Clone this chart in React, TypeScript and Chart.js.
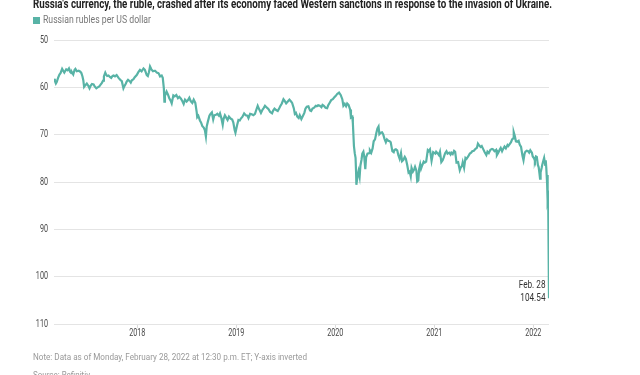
import React, { useEffect, useLayoutEffect, useRef } from "react";
import { Chart, registerables } from "chart.js";

Chart.register(...registerables);

const titleText =
  "Russia's currency, the ruble, crashed after its economy faced Western sanctions in response to the invasion of Ukraine.";
const legendLabel = "Russian rubles per US dollar";
const noteText = "Note: Data as of Monday, February 28, 2022 at 12:30 p.m. ET; Y-axis inverted";
const sourceText = "Source: Refinitiv";
const yearTicks = [2018, 2019, 2020, 2021, 2022];
const yMin = 50;
const yMax = 110;
const yStep = 10;
const endLabelDate = "Feb. 28";
const endLabelValue = "104.54";

const rub2017: [string, number][] = [
  ["2017-02-28", 58.2], ["2017-03-03", 58.6], ["2017-03-07", 59.2], ["2017-03-10", 58.9],
  ["2017-03-15", 58.0], ["2017-03-20", 57.3], ["2017-03-24", 57.0], ["2017-03-30", 56.1],
  ["2017-04-04", 56.6], ["2017-04-07", 56.9], ["2017-04-11", 56.5], ["2017-04-14", 56.2],
  ["2017-04-19", 56.4], ["2017-04-24", 56.0], ["2017-04-28", 56.7], ["2017-05-03", 57.0],
  ["2017-05-05", 56.8], ["2017-05-10", 57.3], ["2017-05-15", 56.3], ["2017-05-18", 56.1],
  ["2017-05-23", 56.6], ["2017-05-30", 56.5], ["2017-06-05", 56.7], ["2017-06-09", 57.0],
  ["2017-06-13", 57.7], ["2017-06-16", 58.5], ["2017-06-19", 59.9], ["2017-06-23", 59.6],
  ["2017-06-29", 59.2], ["2017-07-04", 59.6], ["2017-07-09", 60.2], ["2017-07-13", 59.7],
  ["2017-07-18", 59.3], ["2017-07-24", 59.4], ["2017-07-28", 59.8], ["2017-08-03", 60.2],
  ["2017-08-08", 60.0], ["2017-08-14", 59.8], ["2017-08-18", 59.5], ["2017-08-23", 59.1],
  ["2017-08-28", 58.6], ["2017-08-31", 57.7], ["2017-09-05", 56.9], ["2017-09-08", 57.3],
  ["2017-09-12", 57.6], ["2017-09-17", 57.5], ["2017-09-22", 57.8], ["2017-09-27", 58.0],
  ["2017-10-02", 57.6], ["2017-10-06", 57.5], ["2017-10-11", 57.7], ["2017-10-17", 57.4],
  ["2017-10-24", 58.0], ["2017-10-30", 58.4], ["2017-11-05", 58.7], ["2017-11-11", 60.2],
  ["2017-11-15", 59.7], ["2017-11-20", 59.2], ["2017-11-23", 58.8], ["2017-11-28", 58.4],
  ["2017-12-04", 58.7], ["2017-12-08", 59.0], ["2017-12-12", 58.5], ["2017-12-18", 58.3],
  ["2017-12-22", 57.9], ["2017-12-30", 57.4],
];

const rub2018: [string, number][] = [
  ["2018-01-05", 56.8], ["2018-01-11", 56.3], ["2018-01-17", 56.6], ["2018-01-24", 56.0],
  ["2018-01-29", 56.3], ["2018-02-05", 57.4], ["2018-02-09", 57.6], ["2018-02-13", 56.8],
  ["2018-02-17", 55.6], ["2018-02-22", 56.2], ["2018-02-28", 56.6], ["2018-03-05", 56.5],
  ["2018-03-08", 56.5], ["2018-03-14", 56.9], ["2018-03-20", 57.0], ["2018-03-23", 57.3],
  ["2018-03-26", 57.7], ["2018-04-01", 57.5], ["2018-04-05", 58.0], ["2018-04-09", 60.2],
  ["2018-04-11", 63.0], ["2018-04-13", 61.8], ["2018-04-19", 60.9], ["2018-04-24", 61.5],
  ["2018-04-29", 62.3], ["2018-05-04", 62.8], ["2018-05-08", 63.4], ["2018-05-14", 61.7],
  ["2018-05-19", 61.9], ["2018-05-25", 61.6], ["2018-05-31", 62.3], ["2018-06-05", 62.0],
  ["2018-06-11", 62.4], ["2018-06-16", 62.9], ["2018-06-21", 63.5], ["2018-06-26", 62.6],
  ["2018-07-02", 63.0], ["2018-07-07", 62.7], ["2018-07-12", 62.2], ["2018-07-17", 62.9],
  ["2018-07-23", 63.3], ["2018-07-28", 62.6], ["2018-08-03", 63.3], ["2018-08-08", 65.2],
  ["2018-08-10", 66.3], ["2018-08-14", 66.0], ["2018-08-20", 67.0], ["2018-08-24", 67.4],
  ["2018-08-29", 68.2], ["2018-09-03", 68.5], ["2018-09-07", 69.0], ["2018-09-11", 70.4],
  ["2018-09-14", 68.3], ["2018-09-18", 67.3], ["2018-09-24", 66.0], ["2018-09-28", 65.6],
  ["2018-10-03", 65.3], ["2018-10-08", 66.8], ["2018-10-12", 65.9], ["2018-10-18", 65.8],
  ["2018-10-23", 65.6], ["2018-10-29", 66.0], ["2018-11-02", 65.5], ["2018-11-07", 66.5],
  ["2018-11-12", 67.9], ["2018-11-15", 66.7], ["2018-11-20", 65.9], ["2018-11-26", 66.5],
  ["2018-11-30", 66.9], ["2018-12-05", 66.2], ["2018-12-11", 66.6], ["2018-12-17", 66.8],
  ["2018-12-21", 67.4], ["2018-12-26", 69.0], ["2018-12-29", 69.6],
];

const rub2019: [string, number][] = [
  ["2019-01-04", 68.0], ["2019-01-09", 66.9], ["2019-01-14", 67.0], ["2019-01-18", 66.6],
  ["2019-01-24", 66.2], ["2019-01-30", 65.5], ["2019-02-05", 65.9], ["2019-02-11", 66.0],
  ["2019-02-15", 66.5], ["2019-02-21", 65.6], ["2019-02-27", 65.7], ["2019-03-05", 65.9],
  ["2019-03-11", 65.6], ["2019-03-15", 64.9], ["2019-03-21", 63.9], ["2019-03-27", 64.7],
  ["2019-04-02", 65.4], ["2019-04-08", 64.7], ["2019-04-12", 64.4], ["2019-04-17", 63.9],
  ["2019-04-24", 64.3], ["2019-04-30", 64.6], ["2019-05-06", 65.2], ["2019-05-13", 65.5],
  ["2019-05-17", 64.9], ["2019-05-22", 64.5], ["2019-05-28", 64.8], ["2019-06-03", 65.0],
  ["2019-06-07", 64.6], ["2019-06-12", 64.0], ["2019-06-18", 63.4], ["2019-06-24", 62.5],
  ["2019-06-28", 62.8], ["2019-07-04", 63.4], ["2019-07-10", 63.0], ["2019-07-16", 62.6],
  ["2019-07-22", 63.0], ["2019-07-26", 63.3], ["2019-08-01", 64.4], ["2019-08-05", 65.6],
  ["2019-08-09", 65.4], ["2019-08-14", 66.2], ["2019-08-19", 66.5], ["2019-08-23", 65.9],
  ["2019-08-29", 66.7], ["2019-09-04", 66.0], ["2019-09-09", 65.4], ["2019-09-13", 64.5],
  ["2019-09-18", 64.1], ["2019-09-24", 64.0], ["2019-09-30", 64.9], ["2019-10-04", 65.0],
  ["2019-10-09", 64.5], ["2019-10-15", 64.3], ["2019-10-21", 63.9], ["2019-10-25", 64.0],
  ["2019-10-30", 63.8], ["2019-11-05", 63.9], ["2019-11-11", 64.2], ["2019-11-15", 63.7],
  ["2019-11-20", 63.9], ["2019-11-26", 64.3], ["2019-12-02", 64.4], ["2019-12-06", 63.8],
  ["2019-12-12", 63.2], ["2019-12-17", 62.7], ["2019-12-23", 62.5], ["2019-12-30", 62.0],
];

const rub2020: [string, number][] = [
  ["2020-01-03", 61.8], ["2020-01-08", 61.4], ["2020-01-15", 61.1], ["2020-01-21", 61.6],
  ["2020-01-27", 62.5], ["2020-01-31", 63.9], ["2020-02-05", 63.5], ["2020-02-10", 64.0],
  ["2020-02-14", 63.4], ["2020-02-19", 63.7], ["2020-02-25", 64.7], ["2020-02-28", 66.4],
  ["2020-03-04", 66.2], ["2020-03-06", 67.5], ["2020-03-10", 72.4], ["2020-03-13", 73.9],
  ["2020-03-16", 74.9], ["2020-03-18", 78.0], ["2020-03-19", 80.6], ["2020-03-24", 78.5],
  ["2020-03-27", 77.7], ["2020-03-31", 78.9], ["2020-04-03", 76.5], ["2020-04-07", 75.3],
  ["2020-04-10", 74.0], ["2020-04-14", 73.6], ["2020-04-17", 74.6], ["2020-04-21", 77.3],
  ["2020-04-24", 74.8], ["2020-04-29", 74.0], ["2020-05-05", 73.9], ["2020-05-08", 73.3],
  ["2020-05-13", 73.8], ["2020-05-18", 72.9], ["2020-05-22", 71.4], ["2020-05-27", 71.0],
  ["2020-06-01", 69.6], ["2020-06-05", 68.7], ["2020-06-09", 68.3], ["2020-06-12", 69.9],
  ["2020-06-17", 69.6], ["2020-06-22", 69.5], ["2020-06-26", 69.9], ["2020-07-01", 70.9],
  ["2020-07-06", 71.6], ["2020-07-10", 71.0], ["2020-07-15", 71.3], ["2020-07-20", 71.4],
  ["2020-07-24", 71.6], ["2020-07-30", 73.5], ["2020-08-04", 73.7], ["2020-08-07", 73.2],
  ["2020-08-12", 73.1], ["2020-08-17", 73.3], ["2020-08-21", 74.3], ["2020-08-26", 75.1],
  ["2020-08-31", 73.9], ["2020-09-04", 75.6], ["2020-09-09", 75.3], ["2020-09-14", 74.7],
  ["2020-09-18", 75.1], ["2020-09-23", 76.4], ["2020-09-28", 78.0], ["2020-10-02", 77.8],
  ["2020-10-06", 78.8], ["2020-10-09", 77.0], ["2020-10-14", 77.8], ["2020-10-19", 77.3],
  ["2020-10-22", 76.8], ["2020-10-27", 77.6], ["2020-10-30", 79.9], ["2020-11-03", 79.7],
  ["2020-11-06", 77.3], ["2020-11-10", 76.3], ["2020-11-13", 77.2], ["2020-11-18", 76.4],
  ["2020-11-23", 75.7], ["2020-11-27", 75.9], ["2020-12-02", 75.7], ["2020-12-08", 73.3],
  ["2020-12-11", 73.5], ["2020-12-16", 73.1], ["2020-12-22", 75.5], ["2020-12-28", 73.7],
];

const rub2021: [string, number][] = [
  ["2021-01-05", 74.0], ["2021-01-08", 73.6], ["2021-01-13", 73.9], ["2021-01-18", 74.3],
  ["2021-01-22", 73.6], ["2021-01-27", 75.8], ["2021-02-01", 75.4], ["2021-02-05", 74.8],
  ["2021-02-10", 73.9], ["2021-02-15", 73.5], ["2021-02-19", 74.0], ["2021-02-25", 73.8],
  ["2021-03-02", 74.2], ["2021-03-05", 73.8], ["2021-03-10", 74.1], ["2021-03-15", 73.4],
  ["2021-03-19", 73.6], ["2021-03-24", 75.9], ["2021-03-30", 75.8], ["2021-04-05", 77.5],
  ["2021-04-08", 77.0], ["2021-04-13", 76.6], ["2021-04-16", 75.8], ["2021-04-21", 77.0],
  ["2021-04-26", 74.9], ["2021-04-30", 75.1], ["2021-05-06", 74.6], ["2021-05-12", 74.0],
  ["2021-05-17", 73.8], ["2021-05-21", 73.5], ["2021-05-27", 73.4], ["2021-06-02", 73.0],
  ["2021-06-07", 72.8], ["2021-06-11", 71.9], ["2021-06-16", 72.3], ["2021-06-21", 72.6],
  ["2021-06-25", 72.4], ["2021-06-30", 73.0], ["2021-07-06", 73.7], ["2021-07-12", 74.3],
  ["2021-07-16", 73.6], ["2021-07-21", 73.9], ["2021-07-27", 73.2], ["2021-08-02", 73.0],
  ["2021-08-06", 73.1], ["2021-08-11", 73.5], ["2021-08-17", 73.2], ["2021-08-20", 74.3],
  ["2021-08-25", 73.8], ["2021-08-31", 73.1], ["2021-09-03", 72.8], ["2021-09-08", 73.5],
  ["2021-09-13", 72.9], ["2021-09-17", 72.5], ["2021-09-22", 72.9], ["2021-09-28", 72.2],
  ["2021-10-01", 72.4], ["2021-10-06", 72.0], ["2021-10-11", 71.6], ["2021-10-15", 71.0],
  ["2021-10-19", 70.8], ["2021-10-21", 69.5], ["2021-10-25", 70.3], ["2021-10-29", 71.4],
  ["2021-11-03", 71.5], ["2021-11-08", 71.3], ["2021-11-12", 72.1], ["2021-11-17", 72.6],
  ["2021-11-22", 74.4], ["2021-11-26", 75.4], ["2021-11-30", 74.0], ["2021-12-03", 73.6],
  ["2021-12-08", 73.4], ["2021-12-13", 73.5], ["2021-12-17", 73.8], ["2021-12-21", 73.3],
  ["2021-12-27", 73.8], ["2021-12-30", 74.6],
];

const rub2022: [string, number][] = [
  ["2022-01-04", 75.0], ["2022-01-07", 75.5], ["2022-01-11", 74.6], ["2022-01-14", 74.7],
  ["2022-01-18", 76.4], ["2022-01-21", 76.9], ["2022-01-24", 78.3], ["2022-01-26", 79.3],
  ["2022-01-28", 78.0], ["2022-02-01", 77.0], ["2022-02-03", 76.4], ["2022-02-07", 75.5],
  ["2022-02-10", 74.9], ["2022-02-14", 76.4], ["2022-02-16", 75.4], ["2022-02-18", 77.0],
  ["2022-02-21", 80.3], ["2022-02-22", 78.5], ["2022-02-24", 84.0], ["2022-02-25", 83.5],
  ["2022-02-28", 104.54],
];

const lineColor = "#58b3a6";
const tickFont = "10px Roboto, sans-serif";

function toDecimalYear(iso: string): number {
  const [y, m, d] = iso.split("-").map(Number);
  const start = Date.UTC(y, 0, 1);
  const end = Date.UTC(y + 1, 0, 1);
  return y + (Date.UTC(y, m - 1, d) - start) / (end - start);
}

const allObs = [...rub2017, ...rub2018, ...rub2019, ...rub2020, ...rub2021, ...rub2022];

function drawScaled(ctx: CanvasRenderingContext2D, text: string, x: number, y: number, sx: number) {
  ctx.save();
  ctx.translate(x, y);
  ctx.scale(sx, 1);
  ctx.fillText(text, 0, 0);
  ctx.restore();
}

function FitText({ text, width, style }: { text: string; width: number; style: React.CSSProperties }) {
  const ref = useRef<HTMLSpanElement>(null);
  useLayoutEffect(() => {
    const el = ref.current;
    if (!el) return;
    el.style.transform = "none";
    const w = el.getBoundingClientRect().width;
    if (w > 0) el.style.transform = `scaleX(${width / w})`;
  }, [text, width]);
  return (
    <span
      ref={ref}
      style={{ position: "absolute", whiteSpace: "nowrap", transformOrigin: "0 0", ...style }}
    >
      {text}
    </span>
  );
}

export default function App() {
  const canvasRef = useRef<HTMLCanvasElement>(null);

  useEffect(() => {
    const canvas = canvasRef.current;
    if (!canvas) return;
    const data = allObs.map(([d, v]) => ({ x: toDecimalYear(d), y: v }));
    const xMin = data[0].x;
    const xMax = data[data.length - 1].x;

    const labelsPlugin = {
      id: "condensedLabels",
      afterDraw(chart: any) {
        const ctx: CanvasRenderingContext2D = chart.ctx;
        const xs = chart.scales.x;
        const ys = chart.scales.y;
        ctx.save();
        ctx.fillStyle = "#4a4a4a";
        ctx.font = tickFont;
        ctx.textBaseline = "middle";
        ctx.textAlign = "center";
        for (const t of xs.ticks) {
          drawScaled(ctx, String(t.value), xs.getPixelForValue(t.value), xs.top + 9.5, 0.72);
        }
        ctx.textAlign = "right";
        for (const t of ys.ticks) {
          drawScaled(ctx, String(t.value), ys.right - 6, ys.getPixelForValue(t.value), 0.72);
        }
        const meta = chart.getDatasetMeta(0);
        const pt = meta.data[meta.data.length - 1];
        if (pt) {
          ctx.fillStyle = "#333";
          ctx.font = "10px Roboto, sans-serif";
          drawScaled(ctx, endLabelDate, pt.x - 3.5, pt.y - 12.5, 0.82);
          drawScaled(ctx, endLabelValue, pt.x - 3.5, pt.y, 0.82);
        }
        ctx.restore();
      },
    };

    const chart = new Chart(canvas, {
      type: "line",
      data: {
        datasets: [
          {
            label: legendLabel,
            data,
            borderColor: lineColor,
            backgroundColor: lineColor,
            borderWidth: 2.2,
            pointRadius: 0,
            tension: 0,
            fill: false,
          },
        ],
      },
      options: {
        animation: false,
        responsive: false,
        parsing: false as any,
        layout: { padding: { left: 0, right: 91, top: 40, bottom: 0 } },
        plugins: {
          legend: { display: false },
          tooltip: { enabled: false },
        },
        scales: {
          x: {
            type: "linear",
            min: xMin,
            max: xMax,
            afterFit: (s: any) => {
              s.height = 51;
            },
            afterBuildTicks: (s: any) => {
              s.ticks = yearTicks.map((v) => ({ value: v }));
            },
            grid: {
              display: true,
              drawOnChartArea: false,
              drawTicks: true,
              tickLength: 4,
              color: "#dcdcdc",
            },
            border: { display: false },
            ticks: { display: false, autoSkip: false, maxRotation: 0 },
          },
          y: {
            reverse: true,
            min: yMin,
            max: yMax,
            afterFit: (s: any) => {
              s.width = 54;
            },
            grid: { color: "#e4e4e4", lineWidth: 1, drawTicks: false },
            border: { display: false },
            ticks: { stepSize: yStep, display: false },
          },
        },
      },
      plugins: [labelsPlugin],
    });
    return () => chart.destroy();
  }, []);

  return (
    <div style={{ position: "fixed", left: 0, top: 0, width: 640, height: 375, overflow: "hidden", background: "#fff" }}>
      <canvas
        ref={canvasRef}
        width={640}
        height={375}
        style={{ position: "absolute", left: 0, top: 0, width: 640, height: 375 }}
      />
      <FitText
        text={titleText}
        width={519}
        style={{ left: 33, top: -3, fontFamily: "Roboto, sans-serif", fontWeight: 700, fontSize: 13, lineHeight: "13px", color: "#222" }}
      />
      <div style={{ position: "absolute", left: 33, top: 17, width: 7, height: 7, background: lineColor }} />
      <FitText
        text={legendLabel}
        width={108}
        style={{ left: 43, top: 14, fontFamily: "Roboto, sans-serif", fontSize: 10, lineHeight: "12px", color: "#777" }}
      />
      <FitText
        text={noteText}
        width={274}
        style={{ left: 33, top: 351, fontFamily: "Roboto, sans-serif", fontSize: 9.5, lineHeight: "12px", color: "#999" }}
      />
      <FitText
        text={sourceText}
        width={57}
        style={{ left: 33, top: 369, fontFamily: "Roboto, sans-serif", fontSize: 9.5, lineHeight: "12px", color: "#999" }}
      />
    </div>
  );
}
